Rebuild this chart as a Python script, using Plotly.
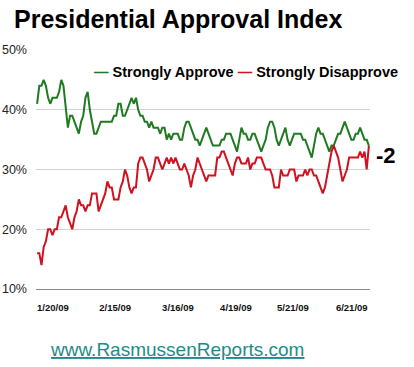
import plotly.graph_objects as go

# ---- data ----
strongly_approve = [
    41, 44, 44, 45, 44, 42, 41, 42, 42, 42, 43, 45, 44, 41, 37, 39, 39, 38, 37, 36,
    38, 39, 42, 43, 40, 38, 36, 36, 37, 38, 38, 38, 38, 38, 38, 39, 39, 41, 41, 39,
    39, 40, 41, 42, 41, 42, 40, 39, 39, 38, 38, 37, 38, 37, 37, 37, 36, 37, 37, 35,
    36, 35, 36, 36, 36, 35, 35, 37, 38, 38, 37, 36, 35, 35, 34, 35, 36, 37, 36, 35,
    34, 34, 34, 34, 35, 35, 36, 36, 36, 35, 34, 33, 35, 37, 36, 36, 35, 35, 36, 36,
    35, 34, 33, 34, 35, 37, 38, 38, 37, 35, 34, 35, 36, 37, 35, 34, 35, 36, 36, 36,
    36, 35, 35, 34, 33, 32, 34, 36, 37, 36, 36, 35, 34, 33, 34, 34, 35, 36, 36, 37,
    38, 37, 36, 35, 35, 36, 36, 37, 36, 35, 35, 34,
]
strongly_disapprove = [
    16, 16, 14, 17, 18, 20, 20, 19, 20, 20, 22, 22, 23, 24, 22, 21, 20, 22, 23, 25,
    24, 24, 23, 24, 24, 26, 26, 26, 23, 24, 25, 26, 28, 27, 27, 25, 25, 25, 27, 28,
    30, 29, 27, 26, 27, 27, 31, 32, 32, 31, 30, 28, 29, 30, 32, 32, 31, 30, 31, 32,
    31, 32, 31, 32, 31, 30, 30, 31, 30, 29, 27, 29, 30, 32, 31, 30, 29, 28, 29, 29,
    29, 29, 32, 32, 33, 33, 32, 31, 30, 29, 31, 32, 32, 31, 31, 31, 32, 30, 31, 31,
    32, 32, 32, 31, 30, 30, 30, 29, 27, 27, 27, 30, 29, 29, 29, 30, 30, 30, 28, 29,
    29, 29, 30, 29, 30, 30, 29, 29, 28, 27, 26, 27, 29, 31, 33, 34, 33, 32, 30, 28,
    29, 30, 32, 32, 32, 32, 32, 33, 32, 33, 30, 34,
]
x_labels = ["1/20/09", "2/15/09", "3/16/09", "4/19/09", "5/21/09", "6/21/09"]
y_ticks = [10, 20, 30, 40, 50]
y_labels = ["10%", "20%", "30%", "40%", "50%"]
index_label = "-2"

# ---- styling / positions ----
GREEN = "#1f7a22"
RED = "#d0111f"
x_label_pos = [7.2, 35.5, 64.1, 90.5, 116.4, 143.2]
n = len(strongly_approve)
x_idx = list(range(n))

fig = go.Figure()
fig.add_trace(go.Scatter(x=x_idx, y=strongly_approve, mode="lines",
                         line=dict(color=GREEN, width=2), name="Strongly Approve",
                         hoverinfo="skip"))
fig.add_trace(go.Scatter(x=x_idx, y=strongly_disapprove, mode="lines",
                         line=dict(color=RED, width=2), name="Strongly Disapprove",
                         hoverinfo="skip"))

L, R, T, B = 36, 44, 50, 78
W, H = 414, 367
pw, ph = W - L - R, H - T - B

def px(xp):
    return (xp - L) / pw

def py(yp):
    return (H - B - yp) / ph

fig.update_layout(
    width=W, height=H,
    margin=dict(l=L, r=R, t=T, b=B, autoexpand=False),
    paper_bgcolor="white", plot_bgcolor="white",
    showlegend=False,
    font=dict(family="Liberation Sans, Arial, sans-serif", color="#111"),
    xaxis=dict(range=[-0.5, n - 0.5], tickvals=x_label_pos, ticktext=x_labels,
               showgrid=False, zeroline=False, showline=True, linecolor="#8a8a8a",
               linewidth=1, ticks="", ticklabelstandoff=10, automargin=False,
               tickfont=dict(family="Liberation Sans, Arial, sans-serif", size=9.5,
                             color="#111", weight="bold"),
               fixedrange=True),
    yaxis=dict(range=[10, 50], tickvals=y_ticks, ticktext=y_labels,
               showgrid=True, gridcolor="#d2d2d2", gridwidth=1, zeroline=False,
               showline=False, ticks="", ticklabelstandoff=8, automargin=False,
               tickfont=dict(family="Liberation Sans Narrow, Liberation Sans, Arial, sans-serif",
                             size=12.5, color="#222"),
               fixedrange=True),
)

fig.add_annotation(xref="paper", yref="paper", x=px(12), y=py(19),
                   xanchor="left", yanchor="middle", showarrow=False,
                   text="<b>Presidential Approval Index</b>",
                   font=dict(size=25, color="#000",
                             family="Liberation Sans, Arial, sans-serif"))
fig.add_annotation(xref="paper", yref="paper", x=px(92), y=py(72),
                   xanchor="left", yanchor="middle", showarrow=False,
                   text=(f"<b><span style='color:{GREEN}'>—</span> Strongly Approve "
                         f"<span style='color:{RED}'>—</span> Strongly Disapprove</b>"),
                   font=dict(size=14.5, color="#000",
                             family="Liberation Sans, Arial, sans-serif"))
fig.add_annotation(xref="paper", yref="paper", x=px(374), y=py(155),
                   xanchor="left", yanchor="middle", showarrow=False,
                   text=f"<b>{index_label}</b>",
                   font=dict(size=22, color="#000",
                             family="Liberation Sans, Arial, sans-serif"))
fig.add_annotation(xref="paper", yref="paper", x=px(48), y=py(349),
                   xanchor="left", yanchor="middle", showarrow=False,
                   text="<u>www.RasmussenReports.com</u>",
                   font=dict(size=19, color="#1c8c88",
                             family="Liberation Sans, Arial, sans-serif"))

fig.write_html("out.html", config={"displayModeBar": False},
               post_script="document.body.style.margin='0';document.body.style.overflow='hidden';")
